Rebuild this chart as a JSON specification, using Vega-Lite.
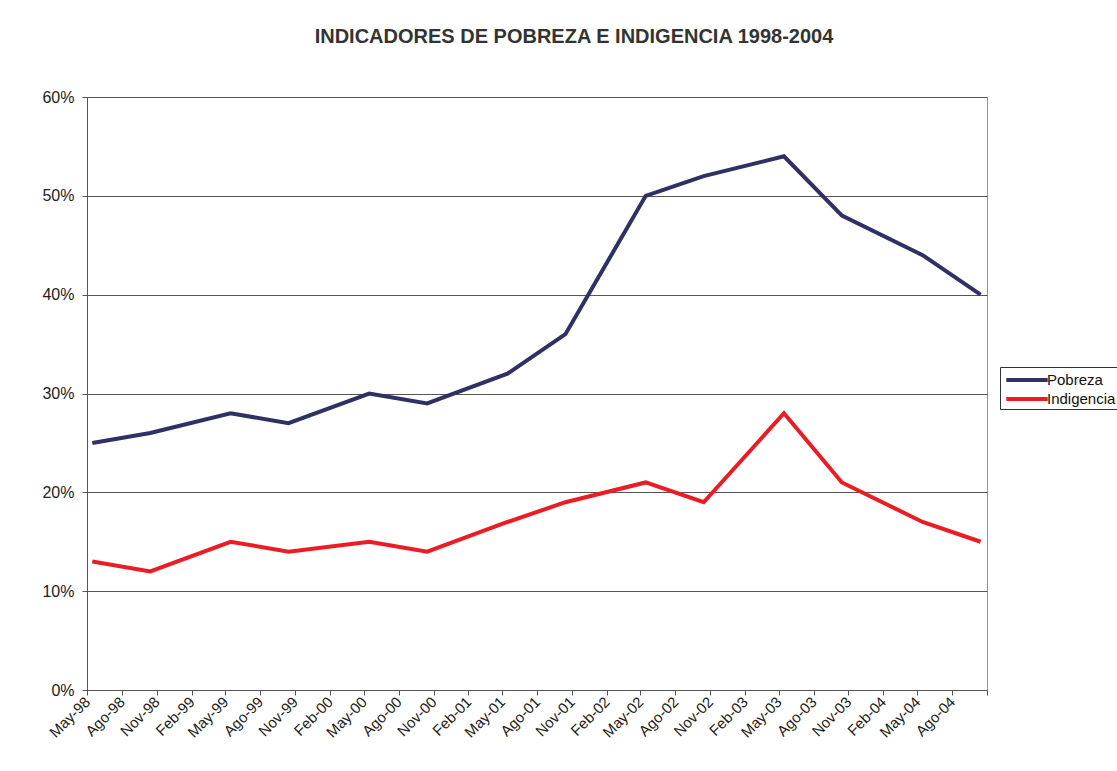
{
  "$schema": "https://vega.github.io/schema/vega-lite/v6.json",
  "width": 900,
  "height": 593,
  "autosize": "none",
  "padding": {"left": 87, "top": 97, "right": 130, "bottom": 81},
  "background": "white",
  "title": {
    "text": "INDICADORES DE POBREZA E INDIGENCIA 1998-2004",
    "font": "Liberation Sans",
    "fontSize": 20,
    "fontWeight": "bold",
    "color": "#333333",
    "anchor": "middle",
    "dx": 37,
    "offset": 42
  },
  "data": {
    "values": [
      {"fecha": "1998-05-15", "serie": "Pobreza", "valor": 25},
      {"fecha": "1998-10-15", "serie": "Pobreza", "valor": 26},
      {"fecha": "1999-05-15", "serie": "Pobreza", "valor": 28},
      {"fecha": "1999-10-15", "serie": "Pobreza", "valor": 27},
      {"fecha": "2000-05-15", "serie": "Pobreza", "valor": 30},
      {"fecha": "2000-10-15", "serie": "Pobreza", "valor": 29},
      {"fecha": "2001-05-15", "serie": "Pobreza", "valor": 32},
      {"fecha": "2001-10-15", "serie": "Pobreza", "valor": 36},
      {"fecha": "2002-05-15", "serie": "Pobreza", "valor": 50},
      {"fecha": "2002-10-15", "serie": "Pobreza", "valor": 52},
      {"fecha": "2003-05-15", "serie": "Pobreza", "valor": 54},
      {"fecha": "2003-10-15", "serie": "Pobreza", "valor": 48},
      {"fecha": "2004-05-15", "serie": "Pobreza", "valor": 44},
      {"fecha": "2004-10-15", "serie": "Pobreza", "valor": 40},
      {"fecha": "1998-05-15", "serie": "Indigencia", "valor": 13},
      {"fecha": "1998-10-15", "serie": "Indigencia", "valor": 12},
      {"fecha": "1999-05-15", "serie": "Indigencia", "valor": 15},
      {"fecha": "1999-10-15", "serie": "Indigencia", "valor": 14},
      {"fecha": "2000-05-15", "serie": "Indigencia", "valor": 15},
      {"fecha": "2000-10-15", "serie": "Indigencia", "valor": 14},
      {"fecha": "2001-05-15", "serie": "Indigencia", "valor": 17},
      {"fecha": "2001-10-15", "serie": "Indigencia", "valor": 19},
      {"fecha": "2002-05-15", "serie": "Indigencia", "valor": 21},
      {"fecha": "2002-10-15", "serie": "Indigencia", "valor": 19},
      {"fecha": "2003-05-15", "serie": "Indigencia", "valor": 28},
      {"fecha": "2003-10-15", "serie": "Indigencia", "valor": 21},
      {"fecha": "2004-05-15", "serie": "Indigencia", "valor": 17},
      {"fecha": "2004-10-15", "serie": "Indigencia", "valor": 15}
    ]
  },
  "mark": {"type": "line", "strokeWidth": 4, "strokeJoin": "miter"},
  "encoding": {
    "x": {
      "field": "fecha",
      "type": "temporal",
      "scale": {
        "type": "utc",
        "domain": [
          {"year": 1998, "month": 5, "date": 1, "utc": true},
          {"year": 2004, "month": 11, "date": 1, "utc": true}
        ]
      },
      "axis": {
        "title": null,
        "grid": false,
        "values": [
          {"year": 1998, "month": 5, "date": 1, "utc": true},
          {"year": 1998, "month": 8, "date": 1, "utc": true},
          {"year": 1998, "month": 11, "date": 1, "utc": true},
          {"year": 1999, "month": 2, "date": 1, "utc": true},
          {"year": 1999, "month": 5, "date": 1, "utc": true},
          {"year": 1999, "month": 8, "date": 1, "utc": true},
          {"year": 1999, "month": 11, "date": 1, "utc": true},
          {"year": 2000, "month": 2, "date": 1, "utc": true},
          {"year": 2000, "month": 5, "date": 1, "utc": true},
          {"year": 2000, "month": 8, "date": 1, "utc": true},
          {"year": 2000, "month": 11, "date": 1, "utc": true},
          {"year": 2001, "month": 2, "date": 1, "utc": true},
          {"year": 2001, "month": 5, "date": 1, "utc": true},
          {"year": 2001, "month": 8, "date": 1, "utc": true},
          {"year": 2001, "month": 11, "date": 1, "utc": true},
          {"year": 2002, "month": 2, "date": 1, "utc": true},
          {"year": 2002, "month": 5, "date": 1, "utc": true},
          {"year": 2002, "month": 8, "date": 1, "utc": true},
          {"year": 2002, "month": 11, "date": 1, "utc": true},
          {"year": 2003, "month": 2, "date": 1, "utc": true},
          {"year": 2003, "month": 5, "date": 1, "utc": true},
          {"year": 2003, "month": 8, "date": 1, "utc": true},
          {"year": 2003, "month": 11, "date": 1, "utc": true},
          {"year": 2004, "month": 2, "date": 1, "utc": true},
          {"year": 2004, "month": 5, "date": 1, "utc": true},
          {"year": 2004, "month": 8, "date": 1, "utc": true},
          {"year": 2004, "month": 11, "date": 1, "utc": true}
        ],
        "labelExpr": "(utcmonth(datum.value) == 10 && utcyear(datum.value) == 2004) ? '' : ['Ene','Feb','Mar','Abr','May','Jun','Jul','Ago','Sep','Oct','Nov','Dic'][utcmonth(datum.value)] + '-' + utcFormat(datum.value, '%y')",
        "labelAngle": -45,
        "labelAlign": "right",
        "labelBaseline": "middle",
        "labelFont": "Liberation Sans",
        "labelFontSize": 15,
        "labelColor": "#222222",
        "labelOverlap": false,
        "labelFlush": false,
        "labelPadding": 4,
        "tickSize": 5,
        "tickColor": "#555555",
        "domainColor": "#555555"
      }
    },
    "y": {
      "field": "valor",
      "type": "quantitative",
      "scale": {"domain": [0, 60], "nice": false},
      "axis": {
        "title": null,
        "values": [0, 10, 20, 30, 40, 50, 60],
        "labelExpr": "datum.value + '%'",
        "labelFont": "Liberation Sans",
        "labelFontSize": 16,
        "labelColor": "#222222",
        "labelPadding": 8,
        "tickSize": 5,
        "tickColor": "#555555",
        "domainColor": "#555555",
        "grid": true,
        "gridColor": "#555555",
        "gridWidth": 1
      }
    },
    "color": {
      "field": "serie",
      "type": "nominal",
      "scale": {"domain": ["Pobreza", "Indigencia"], "range": ["#2f3063", "#ec1c24"]},
      "legend": {
        "title": null,
        "orient": "none",
        "legendX": 913,
        "legendY": 270,
        "symbolType": "M-2.3,0L2.3,0",
        "symbolSize": 324,
        "symbolStrokeWidth": 4,
        "symbolOffset": 14,
        "labelFont": "Liberation Sans",
        "labelFontSize": 15,
        "labelColor": "#111111",
        "labelOffset": 9,
        "strokeColor": "#333333",
        "fillColor": "white",
        "padding": 2,
        "rowPadding": 0
      }
    }
  },
  "config": {"view": {"stroke": "#9a918c", "strokeWidth": 1}}
}
